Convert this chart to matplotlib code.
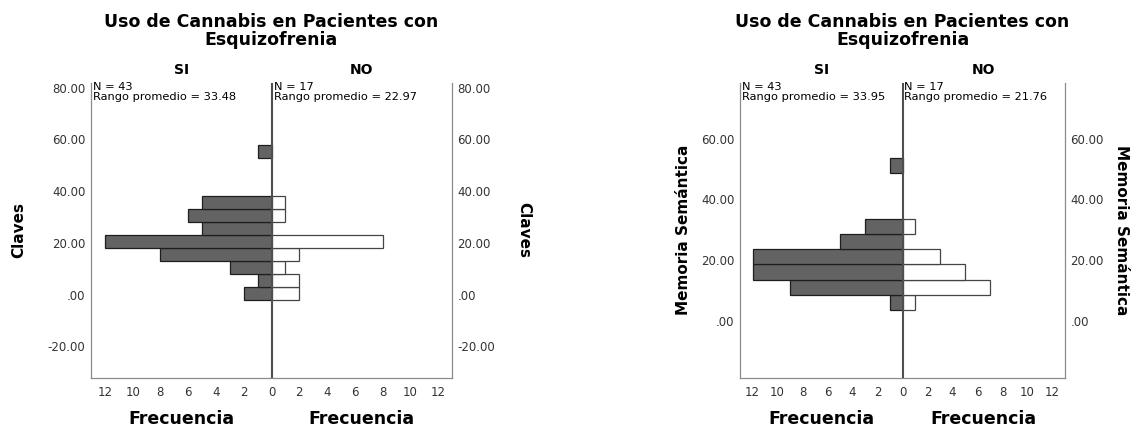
import numpy as np
import matplotlib
matplotlib.use("Agg")
import matplotlib.pyplot as plt
from matplotlib.ticker import FuncFormatter

# Claves: lower bin edges, counts per group
claves_edges = [-2, 3, 8, 13, 18, 23, 28, 33, 53]
claves_si = [2, 1, 3, 8, 12, 5, 6, 5, 1]
claves_no = [2, 2, 1, 2, 8, 0, 1, 1, 0]

# Memoria Semantica
mem_edges = [3.5, 8.5, 13.5, 18.5, 23.5, 28.5, 48.5]
mem_si = [1, 9, 12, 12, 5, 3, 1]
mem_no = [1, 7, 5, 3, 0, 1, 0]

bin_width = 5
groups = ["SI", "NO"]
claves_stats = [(43, 33.48), (17, 22.97)]
mem_stats = [(43, 33.95), (17, 21.76)]
title = "Uso de Cannabis en Pacientes con\nEsquizofrenia"

plt.rcParams["font.family"] = "DejaVu Sans"

W, H = 1134, 429
fig = plt.figure(figsize=(W / 100, H / 100), dpi=100)


def ylab(v, pos):
    s = f"{v:.2f}"
    if abs(v) < 1:
        s = s.replace("0.", ".", 1)
    return s


def pyramid(rect, edges, si, no, ylim, yticks, stats, label, lab_off):
    ax = fig.add_axes([rect[0] / W, rect[1] / H, rect[2] / W, rect[3] / H])
    edges = np.asarray(edges, float)
    si = np.asarray(si)
    no = np.asarray(no)
    m = si > 0
    ax.barh(edges[m], -si[m], height=bin_width, align="edge",
            color="#636363", edgecolor="#1e1e1e", linewidth=0.9, zorder=2)
    m = no > 0
    ax.barh(edges[m], no[m], height=bin_width, align="edge",
            color="white", edgecolor="#444444", linewidth=0.9, zorder=2)
    ax.axvline(0, color="#4f4f4f", linewidth=1.5, zorder=3)

    ax.set_xlim(-13, 13)
    ax.set_ylim(*ylim)
    ax.set_xticks(np.arange(-12, 13, 2))
    ax.set_xticklabels([str(abs(t)) for t in range(-12, 13, 2)])
    ax.set_yticks(yticks)
    ax.yaxis.set_major_formatter(FuncFormatter(ylab))
    ax.tick_params(axis="both", length=0, labelsize=8.5, colors="#333333")
    ax.tick_params(axis="x", pad=6)
    ax.tick_params(axis="y", pad=4, labelleft=True, labelright=True)

    ax.spines["top"].set_visible(False)
    for s in ["left", "right", "bottom"]:
        ax.spines[s].set_color("#8c8c8c")
        ax.spines[s].set_linewidth(0.9)

    trans = ax.get_xaxis_transform()
    for x, g in zip([-6.5, 6.5], groups):
        ax.text(x, 1.041, g, transform=trans, ha="center", va="center",
                fontsize=10, fontweight="bold")
        ax.text(x, -0.141, "Frecuencia", transform=trans, ha="center",
                va="center", fontsize=12.5, fontweight="bold")
    for x, (n, r) in zip([-13, 0], stats):
        ax.text(x + 0.15, 1.0, f"N = {n}\nRango promedio = {r:.2f}",
                transform=trans, ha="left", va="top", fontsize=8.2,
                linespacing=1.0)

    ax.text(-lab_off, 0.5, label, transform=ax.transAxes, rotation=90,
            ha="center", va="center", fontsize=11, fontweight="bold")
    ax.text(1 + lab_off, 0.5, label, transform=ax.transAxes, rotation=270,
            ha="center", va="center", fontsize=11, fontweight="bold")
    ax.text(0.5, 1.175, title, transform=ax.transAxes, ha="center",
            va="center", fontsize=12.5, fontweight="bold", linespacing=0.95)
    return ax


pyramid((91, 51.5, 361, 295), claves_edges, claves_si, claves_no,
        (-32, 82), [-20, 0, 20, 40, 60, 80], claves_stats, "Claves", 0.2)
pyramid((740, 51.5, 325, 295), mem_edges, mem_si, mem_no,
        (-18.8, 78.5), [0, 20, 40, 60], mem_stats, "Memoria Semántica", 0.175)

fig.savefig("out.png", dpi=100)
